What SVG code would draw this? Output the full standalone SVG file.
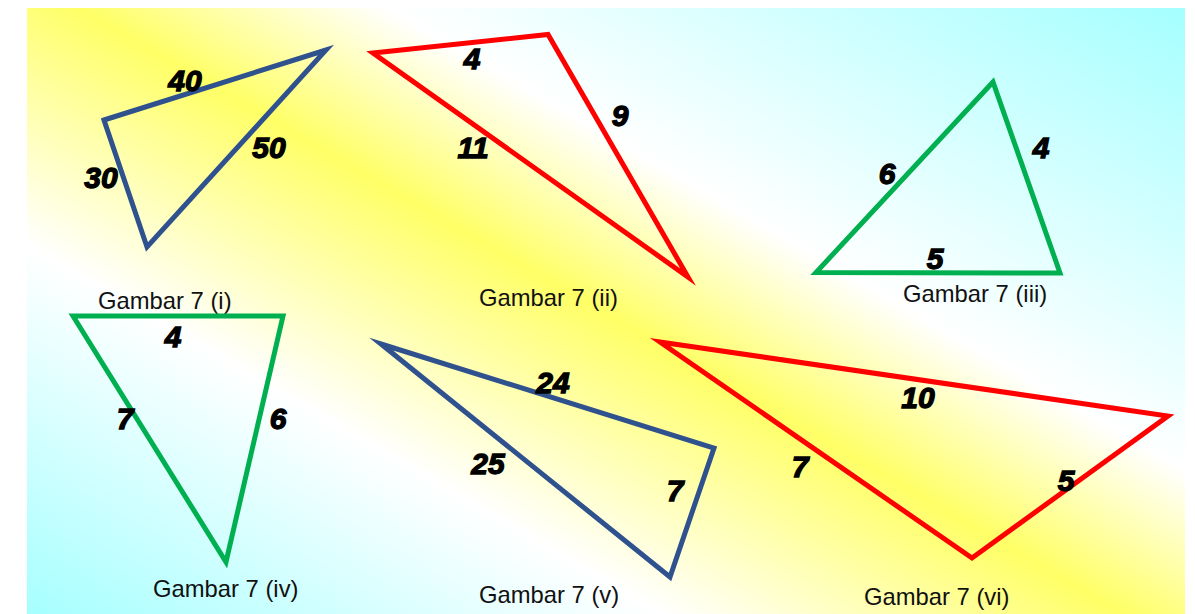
<svg xmlns="http://www.w3.org/2000/svg" width="1195" height="614" viewBox="0 0 1195 614">
<defs>
<linearGradient id="bg" gradientUnits="userSpaceOnUse" x1="324" y1="786" x2="876" y2="-166">
<stop offset="0" stop-color="#A6FFFF"/>
<stop offset="0.29" stop-color="#FFFFFF"/>
<stop offset="0.5" stop-color="#FFFF66"/>
<stop offset="0.64" stop-color="#FFFFFF"/>
<stop offset="1" stop-color="#A6FFFF"/>
</linearGradient>
</defs>
<style>
.tri{fill:none;stroke-width:5;stroke-linejoin:miter;stroke-miterlimit:12}
.blue{stroke:#2F528F}
.red{stroke:#FF0000}
.green{stroke:#00B050}
.num{font-family:"Liberation Sans",Arial,sans-serif;font-size:30px;font-weight:bold;font-style:italic;fill:#000;stroke:#000;stroke-width:1.3;text-anchor:middle}
.cap{font-family:"Liberation Sans",Arial,sans-serif;font-size:23.8px;fill:#111}
</style>
<rect x="27" y="8" width="1158" height="606" fill="url(#bg)"/>
<g id="fig-i">
<polygon class="tri blue" points="104,120 326,50 147,247"/>
<text class="num" x="185" y="91">40</text>
<text class="num" x="269" y="158">50</text>
<text class="num" x="101" y="188">30</text>
<text class="cap" x="98" y="309">Gambar 7 (i)</text>
</g>
<g id="fig-ii">
<polygon class="tri red" points="373,53 548,34.5 688,277"/>
<text class="num" x="472" y="69">4</text>
<text class="num" x="620" y="126">9</text>
<text class="num" x="473" y="158">11</text>
<text class="cap" x="479" y="306">Gambar 7 (ii)</text>
</g>
<g id="fig-iii">
<polygon class="tri green" points="993,82 816,272.5 1060,273"/>
<text class="num" x="887" y="184">6</text>
<text class="num" x="1041" y="158">4</text>
<text class="num" x="935" y="269">5</text>
<text class="cap" x="903" y="302">Gambar 7 (iii)</text>
</g>
<g id="fig-iv">
<polygon class="tri green" points="73,316 283,316 226,562"/>
<text class="num" x="173" y="347">4</text>
<text class="num" x="125" y="429">7</text>
<text class="num" x="278" y="429">6</text>
<text class="cap" x="153" y="597">Gambar 7 (iv)</text>
</g>
<g id="fig-v">
<polygon class="tri blue" points="381,344 714,448 670,577"/>
<text class="num" x="553" y="393">24</text>
<text class="num" x="488" y="474">25</text>
<text class="num" x="675" y="501">7</text>
<text class="cap" x="479" y="603">Gambar 7 (v)</text>
</g>
<g id="fig-vi">
<polygon class="tri red" points="660,342 1168,416 972,558"/>
<text class="num" x="918" y="408">10</text>
<text class="num" x="800" y="477">7</text>
<text class="num" x="1066" y="491">5</text>
<text class="cap" x="864" y="605">Gambar 7 (vi)</text>
</g>
<g id="connectors"/>
</svg>
